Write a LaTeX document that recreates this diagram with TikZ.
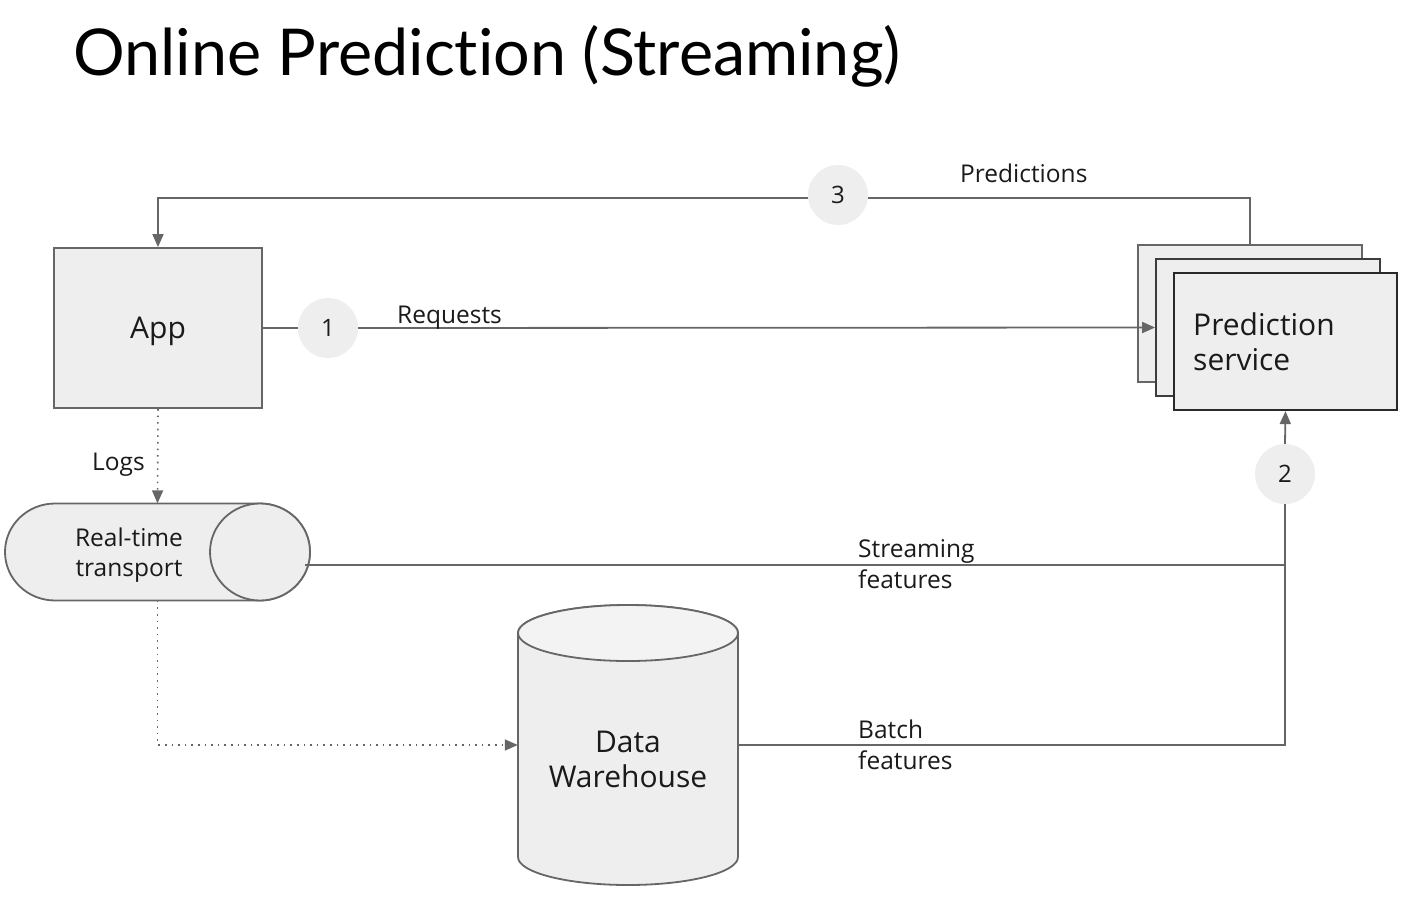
\documentclass[tikz,border=0pt]{standalone}
\usepackage{fontspec}
\setmainfont{Open Sans}
\newfontfamily\titlefont[Ligatures={NoCommon,NoRare}]{Lato}
\usetikzlibrary{arrows.meta}
\definecolor{linec}{HTML}{666666}
\definecolor{boxfill}{HTML}{EEEEEE}
\definecolor{txt}{HTML}{1A1A1A}
\tikzset{
  conn/.style={draw=linec, line width=1.8pt},
  arr/.style={conn, -{Triangle[length=13pt,width=11pt]}},
  dotconn/.style={conn, line width=1.6pt, dash pattern=on 1.6pt off 5pt},
  numc/.style={circle, fill=boxfill, draw=none, minimum size=60pt, inner sep=0pt, font=\fontsize{24}{28}\selectfont, text=txt},
  lbl/.style={font=\fontsize{24.5}{31}\selectfont, text=txt, inner sep=0pt, align=left},
  bigbox/.style={rectangle, fill=boxfill, draw=linec, line width=1.8pt, inner sep=0pt},
  ghost/.style={rectangle, draw=none, inner sep=0pt}
}
\begin{document}
\begin{tikzpicture}[x=1pt,y=-1pt]
\useasboundingbox (0,0) rectangle (1426,900);
% title
\node[anchor=base west, inner sep=0pt, font=\titlefont\fontsize{64.6}{70}\selectfont, text=black] (title) at (73,75) {Online Prediction (Streaming)};
% App
\node[bigbox, minimum width=208pt, minimum height=160pt, font=\fontsize{30}{36}\selectfont, text=txt, text height=21pt, text depth=0pt] (app) at (158,328) {App};
% Prediction service stack
\node[bigbox, minimum width=224pt, minimum height=137pt] (psb) at (1250,313.5) {};
\node[bigbox, draw=linec!60!black, minimum width=224pt, minimum height=137pt] (psm) at (1268,327.5) {};
\node[bigbox, draw=linec!40!black, line width=2.2pt, minimum width=223pt, minimum height=137pt] (ps) at (1285.5,341.5) {};
\node[lbl, anchor=base west, font=\fontsize{30}{35}\selectfont] (pstext) at (1193,370) {Prediction\\service};
% Real-time transport
\draw[fill=boxfill, draw=linec, line width=1.8pt] (55,503.5) -- (260,503.5) arc[start angle=90, end angle=-90, x radius=50pt, y radius=48.5pt] -- (55,600.5) arc[start angle=270, end angle=90, x radius=50pt, y radius=48.5pt] -- cycle;
\draw[fill=boxfill, draw=linec, line width=1.8pt] (260,552) ellipse[x radius=50pt, y radius=48.5pt];
\node[ghost, minimum width=305pt, minimum height=97pt] (rt) at (157.5,552) {};
\node[lbl, align=center, anchor=base] (rttext) at (129,576) {Real-time\\[-1pt]transport};
% Data warehouse
\draw[fill=boxfill, draw=linec, line width=1.8pt] (518,633) -- (518,857) arc[start angle=180, end angle=360, x radius=110pt, y radius=28pt] -- (738,633) arc[start angle=0, end angle=180, x radius=110pt, y radius=28pt] -- cycle;
\draw[fill=boxfill!70!white, draw=linec, line width=1.8pt] (628,633) ellipse[x radius=110pt, y radius=28pt];
\node[ghost, minimum width=220pt, minimum height=200pt] (dw) at (628,745) {};
\node[lbl, align=center, anchor=base, font=\fontsize{30}{35}\selectfont] (dwtext) at (628,787) {Data\\Warehouse};
% numbered circles
\node[numc] (c1) at (328,328) {1};
\node[numc] (c2) at (1285,474) {2};
\node[numc] (c3) at (838,195) {3};
% connectors
\draw[conn] (app.east) -- (c1.west);
\draw[arr] (c1.east) -- (psm.west);
\node[lbl, anchor=base west] (lreq) at (397,323) {Requests};
\draw[conn] (psb.north) |- ([yshift=-3pt]c3.east);
\draw[arr] ([yshift=-3pt]c3.west) -| (app.north);
\node[lbl, anchor=base west] (lpred) at (960,182) {Predictions};
\draw[arr] (c2.north) -- (ps.south);
\draw[dotconn, -{Triangle[length=13pt,width=11pt]}] (app.south) -- (rt.north);
\node[lbl, anchor=base east] (llogs) at (145,470) {Logs};
\draw[dotconn, -{Triangle[length=13pt,width=11pt]}] (rt.south) |- (dw.west);
\coordinate (sfj) at (1285,565);
\draw[conn] ([xshift=-5pt,yshift=-13pt]rt.east) -- (sfj);
\draw[conn] (dw.east) -| (c2.south);
\node[lbl, anchor=base west] (lsf) at (858,588) {Streaming\\features};
\node[lbl, anchor=base west] (lbf) at (858,769) {Batch\\features};
\end{tikzpicture}
\end{document}
